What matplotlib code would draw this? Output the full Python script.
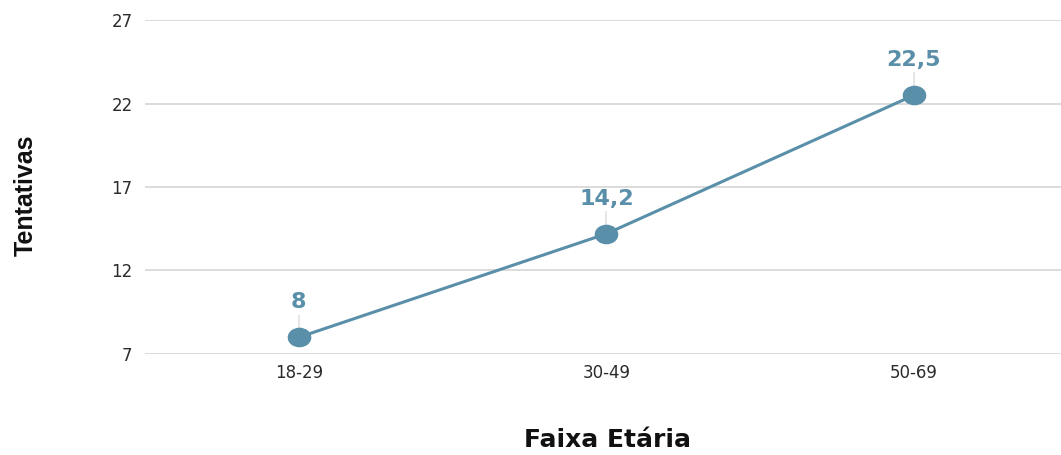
import matplotlib
matplotlib.use("Agg")
import matplotlib.pyplot as plt
from matplotlib.path import Path
from matplotlib.transforms import Affine2D

categories = ["18-29", "30-49", "50-69"]
values = [8, 14.2, 22.5]
value_labels = ["8", "14,2", "22,5"]
y_ticks = [7, 12, 17, 22, 27]

line_color = "#5a8fa9"
grid_color = "#d2d2d2"

# slightly wide elliptical point marker
ellipse = Path.unit_circle().transformed(Affine2D().scale(1.22, 1.0))

fig = plt.figure(figsize=(10.61, 4.55), dpi=100)
ax = fig.add_axes([0.1367, 0.222, 0.8633, 0.734])

x = list(range(len(categories)))
ax.set_xlim(-0.5, 2.478)
ax.set_ylim(7, 27)

for t in y_ticks:
    ax.axhline(t, color=grid_color, lw=1.1, zorder=0)

# leader lines from each point up to its value label
for xi, v in zip(x, values):
    ax.plot([xi, xi], [v, v + 1.3], color="#e2e2e2", lw=1.2, zorder=1)

ax.plot(x, values, color=line_color, lw=2.2, marker=ellipse, markersize=16,
        markerfacecolor=line_color, markeredgecolor=line_color, zorder=3)

for xi, v, lab in zip(x, values, value_labels):
    ax.annotate(lab, (xi, v), xytext=(0, 18), textcoords="offset points",
                ha="center", va="bottom", color=line_color, fontsize=16,
                fontweight="bold", family=["DejaVu Sans"])

ax.set_xticks(x)
ax.set_xticklabels(categories)
ax.set_yticks(y_ticks)
ax.tick_params(length=0, labelsize=12, labelcolor="#2b2b2b")
ax.tick_params(axis="x", pad=7)
ax.tick_params(axis="y", pad=9)
for lab in ax.get_xticklabels() + ax.get_yticklabels():
    lab.set_family(["DejaVu Sans"])

for s in ax.spines.values():
    s.set_visible(False)

fig.text(0.5722, 0.0176, "Faixa Etária", ha="center", va="baseline",
         fontsize=18, fontweight="bold", color="#111111",
         family=["DejaVu Sans"])
fig.text(0.024, 0.57, "Tentativas", ha="center", va="center", rotation=90,
         fontsize=18, fontweight="bold", color="#111111",
         family=["Liberation Sans Narrow", "Liberation Sans", "DejaVu Sans"])

fig.savefig("out.png", dpi=100)
